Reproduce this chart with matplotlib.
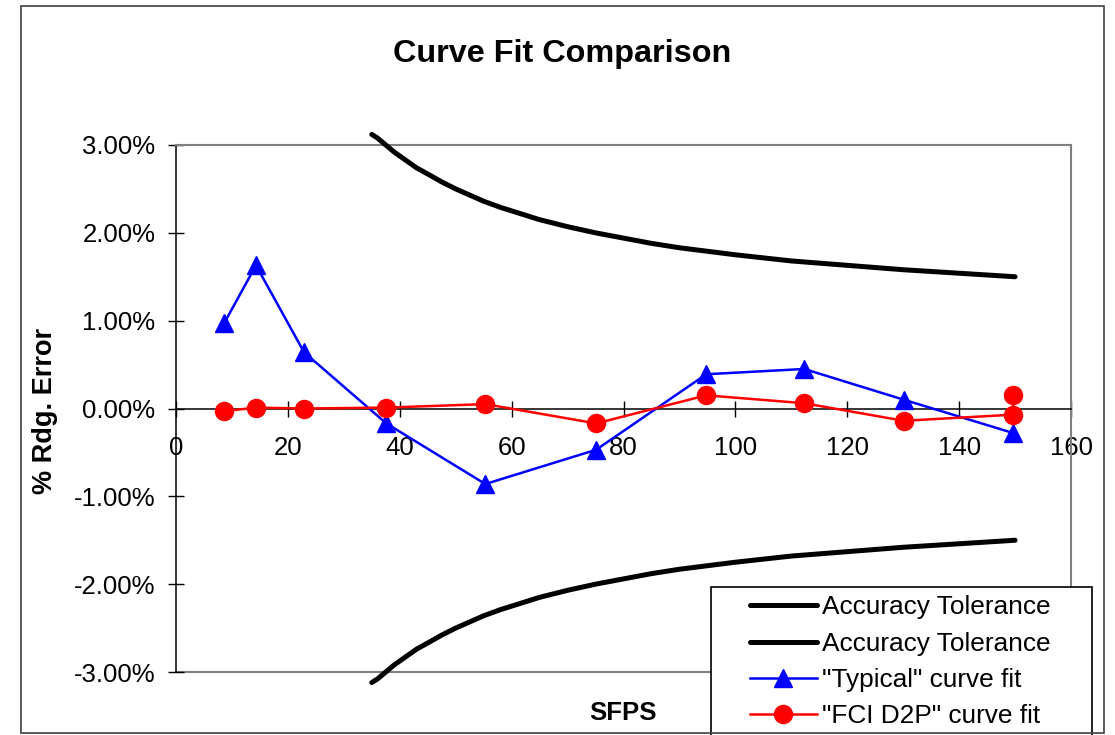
import matplotlib
matplotlib.use("Agg")
import matplotlib.pyplot as plt
from matplotlib.lines import Line2D
from matplotlib.legend_handler import HandlerLine2D
from matplotlib.patches import Rectangle

plt.rcParams['font.family'] = ['Liberation Sans', 'DejaVu Sans']

# values (% reading error vs SFPS)
sfps = [8.6, 14.3, 22.9, 37.6, 55.3, 75.1, 94.8, 112.3, 130.1, 149.7]
typical_fit = [0.97, 1.63, 0.64, -0.17, -0.86, -0.47, 0.39, 0.45, 0.10, -0.28]
fci_sfps = [8.6, 14.3, 22.9, 37.6, 55.3, 75.1, 94.8, 112.3, 130.1, 149.7, 149.7]
fci_fit = [-0.03, 0.01, 0.00, 0.01, 0.05, -0.17, 0.15, 0.06, -0.14, -0.07, 0.15]

tol_sfps = [35, 36, 37.5, 39, 41, 43, 45, 47.5, 50, 52.5, 55, 58, 61, 65, 70, 75, 80, 85,
            90, 95, 100, 110, 120, 130, 140, 150]
tol_upper = [3.12, 3.08, 3.00, 2.92, 2.83, 2.74, 2.67, 2.58, 2.50, 2.43, 2.36, 2.29, 2.23,
             2.15, 2.07, 2.00, 1.94, 1.88, 1.83, 1.79, 1.75, 1.68, 1.63, 1.58, 1.54, 1.50]
tol_lower = [-v for v in tol_upper]

x_ticks = [0, 20, 40, 60, 80, 100, 120, 140, 160]
y_ticks = [-3, -2, -1, 0, 1, 2, 3]

W, H = 1115, 735
fig = plt.figure(figsize=(W / 100, H / 100), dpi=100)
ax = fig.add_axes([176 / W, 1 - 672 / H, (1071 - 176) / W, (672 - 145) / H])

fs = 18.5

ax.plot(tol_sfps, tol_upper, color='black', lw=3.6, solid_capstyle='round', clip_on=False,
        label='Accuracy Tolerance', zorder=3)
ax.plot(tol_sfps, tol_lower, color='black', lw=3.6, solid_capstyle='round', clip_on=False,
        label='Accuracy Tolerance', zorder=3)
ax.plot(sfps, typical_fit, color='#0000ff', lw=1.8, marker='^', markersize=13,
        label='"Typical" curve fit', zorder=4, clip_on=False)
ax.plot(fci_sfps, fci_fit, color='#ff0000', lw=1.8, marker='o', markersize=13,
        label='"FCI D2P" curve fit', zorder=5, clip_on=False)

ax.set_xlim(0, 160)
ax.set_ylim(-3, 3)

# x axis crosses at zero
ax.spines['bottom'].set_position(('data', 0))
ax.spines['bottom'].set_color('black')
ax.spines['bottom'].set_linewidth(1.1)
ax.spines['left'].set_color('black')
ax.spines['left'].set_linewidth(1.1)
for side in ['top', 'right']:
    ax.spines[side].set_color('#808080')
    ax.spines[side].set_linewidth(1.5)
ax.axhline(-3, color='#808080', lw=1.5, zorder=1, clip_on=False)

ax.set_xticks(x_ticks)
ax.set_xticklabels([str(v) for v in x_ticks])
ax.set_yticks(y_ticks)
ax.set_yticklabels([f'{v:.2f}%' for v in y_ticks])
ax.tick_params(axis='both', direction='inout', length=11.5, width=1.0, labelsize=fs, color='black')
ax.tick_params(axis='x', pad=14)
ax.tick_params(axis='y', pad=9)

fig.text(562 / W, 1 - 62 / H, 'Curve Fit Comparison', ha='center', va='baseline',
         fontsize=23.3, fontweight='bold')
fig.text(623 / W, 1 - 720 / H, 'SFPS', ha='center', va='baseline', fontsize=fs, fontweight='bold')
fig.text(45.5 / W, 1 - 411 / H, '% Rdg. Error', ha='center', va='center', rotation=90,
         fontsize=19.5, fontweight='bold')

# outer chart frame
fig.patches.append(Rectangle((21 / W, 1 - 733 / H), (1104 - 21) / W, (733 - 6) / H,
                             transform=fig.transFigure, fill=False, edgecolor='#404040', lw=1.2))

leg = ax.legend(loc='upper left', bbox_to_anchor=(711 / W, 1 - 587 / H, (1092 - 711) / W, 0),
                bbox_transform=fig.transFigure, mode='expand', borderaxespad=0, fontsize=18.9,
                fancybox=False, framealpha=1, edgecolor='black', borderpad=0.32,
                labelspacing=0.47, handlelength=3.7, handletextpad=0.22,
                handler_map={Line2D: HandlerLine2D(xpad=1.15)})
leg.get_frame().set_linewidth(1.2)
leg.set_zorder(10)

fig.savefig('out.png', dpi=100)
